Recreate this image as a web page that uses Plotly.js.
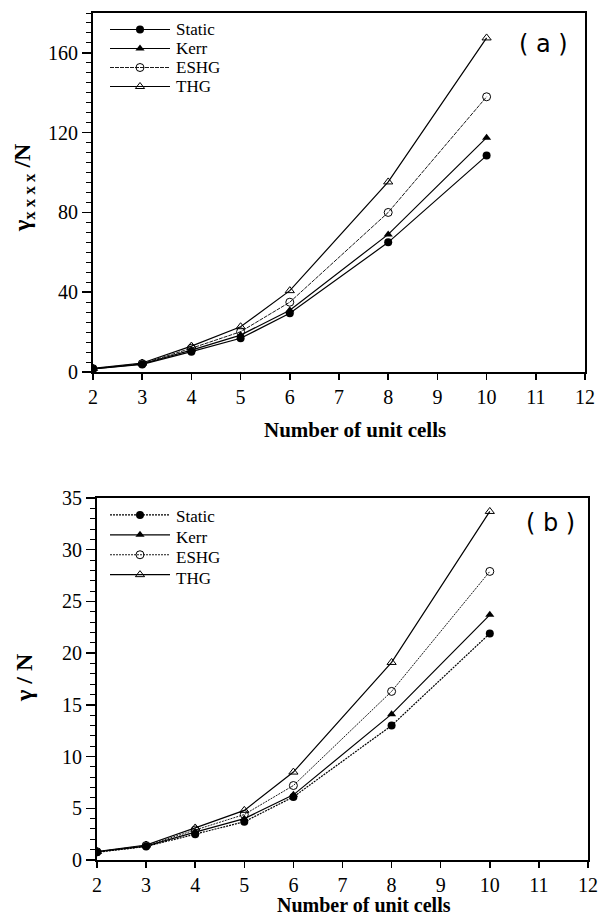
<!DOCTYPE html>
<html>
<head>
<meta charset="utf-8">
<script src="https://cdn.plot.ly/plotly-3.0.1.min.js"></script>
<style>html,body{margin:0;padding:0;background:#fff;}#chart{width:600px;height:915px;}</style>
</head>
<body>
<div id="chart"></div>
<script>
// Shared x values (number of unit cells)
const cells = [2, 3, 4, 5, 6, 8, 10];

// Panel (a): gamma_xxxx / N
const aStatic = [1.5, 3.8, 10.2, 16.9, 29.4, 65, 108.5];
const aKerr   = [1.6, 4.0, 11.0, 18.5, 31.0, 69, 117.5];
const aESHG   = [1.7, 4.2, 11.9, 20.2, 35.0, 80, 138];
const aTHG    = [1.8, 4.5, 13.0, 22.7, 40.8, 95.3, 167.5];

// Panel (b): gamma / N
const bStatic = [0.75, 1.3, 2.5, 3.7, 6.1, 13.0, 21.9];
const bKerr   = [0.78, 1.35, 2.7, 4.0, 6.3, 14.1, 23.7];
const bESHG   = [0.8, 1.4, 2.9, 4.4, 7.2, 16.3, 27.9];
const bTHG    = [0.82, 1.45, 3.1, 4.8, 8.5, 19.1, 33.7];

const seriesNames = ['Static', 'Kerr', 'ESHG', 'THG'];
const xTicks = [2, 3, 4, 5, 6, 7, 8, 9, 10, 11, 12];

const serif = 'Liberation Serif';
const styles = {
  Static: {marker: {symbol: 'circle', size: 8, color: '#000'}, line: {color: '#000', width: 1.2}},
  Kerr:   {marker: {symbol: 'triangle-up', size: 8, color: '#000'}, line: {color: '#000', width: 1.2}},
  ESHG:   {marker: {symbol: 'circle-open', size: 8, color: '#000', line: {width: 1}}, line: {color: '#000', width: 0.9, dash: '4px,1px'}},
  THG:    {marker: {symbol: 'triangle-up-open', size: 8, color: '#000', line: {width: 1}}, line: {color: '#000', width: 1.2}}
};

// Legend symbols come from the traces (legend labels are written as annotations
// so that the compact row spacing of the original can be kept with large text).
function mk(name, y, xa, ya, leg, dashOverride) {
  const s = styles[name];
  const line = Object.assign({}, s.line);
  if (dashOverride) line.dash = dashOverride;
  return {x: cells, y: y, name: '', meta: name, hovertemplate: name + ': %{y}<extra></extra>',
          type: 'scatter', mode: 'lines+markers',
          xaxis: xa, yaxis: ya, legend: leg, marker: s.marker, line: line};
}

const traces = [
  mk(seriesNames[0], aStatic, 'x', 'y', 'legend'),
  mk(seriesNames[1], aKerr, 'x', 'y', 'legend'),
  mk(seriesNames[2], aESHG, 'x', 'y', 'legend'),
  mk(seriesNames[3], aTHG, 'x', 'y', 'legend'),
  mk(seriesNames[0], bStatic, 'x2', 'y2', 'legend2', '2px,1px'),
  mk(seriesNames[1], bKerr, 'x2', 'y2', 'legend2'),
  mk(seriesNames[2], bESHG, 'x2', 'y2', 'legend2', '2px,1px'),
  mk(seriesNames[3], bTHG, 'x2', 'y2', 'legend2')
];

const tickFont = {family: serif, size: 20, color: '#000'};
function xax(domain, anchor) {
  return {domain: domain, anchor: anchor, range: [2, 12], tickvals: xTicks, ticktext: xTicks.map(String),
          ticks: 'outside', ticklen: 6, tickwidth: 1.5, tickcolor: '#000',
          showline: true, linewidth: 2, linecolor: '#000', mirror: true,
          showgrid: false, zeroline: false, tickfont: tickFont, fixedrange: true};
}
function yax(domain, anchor, range, dtick, minor) {
  return {domain: domain, anchor: anchor, range: range, dtick: dtick, tick0: 0,
          ticks: 'outside', ticklen: 9, tickwidth: 1.5, tickcolor: '#000',
          minor: {dtick: minor, ticks: 'outside', ticklen: 5, tickwidth: 1, tickcolor: '#000', showgrid: false},
          showline: true, linewidth: 2, linecolor: '#000', mirror: true,
          showgrid: false, zeroline: false, tickfont: tickFont, fixedrange: true};
}

function legendCfg(top, size) {
  return {x: 105/600, y: 1 - top/915, xanchor: 'left', yanchor: 'top', bgcolor: 'rgba(0,0,0,0)',
          font: {family: serif, size: size, color: '#000'}, itemwidth: 60, tracegroupgap: 0, itemclick: false};
}

// legend label annotations
const legRowsA = [29, 48, 67, 86];
const legRowsB = [516, 537, 557, 578];
const legAnn = [];
seriesNames.forEach(function (n, i) {
  legAnn.push({text: n, xref: 'paper', yref: 'paper', x: 174/600, y: 1 - legRowsA[i]/915, showarrow: false,
               xanchor: 'left', yanchor: 'middle', font: {family: serif, size: 17, color: '#000'}});
  legAnn.push({text: n, xref: 'paper', yref: 'paper', x: 174/600, y: 1 - legRowsB[i]/915, showarrow: false,
               xanchor: 'left', yanchor: 'middle', font: {family: serif, size: 17, color: '#000'}});
});

const layout = {
  width: 600, height: 915,
  margin: {l: 0, r: 0, t: 0, b: 0},
  paper_bgcolor: '#fff', plot_bgcolor: '#fff',
  showlegend: true,
  xaxis: xax([93/600, 585/600], 'y'),
  yaxis: yax([1 - 372/915, 1 - 13/915], 'x', [0, 180], 40, 5),
  xaxis2: xax([97/600, 588/600], 'y2'),
  yaxis2: yax([1 - 860/915, 1 - 498/915], 'x2', [0, 35], 5, 1),
  legend: legendCfg(15, 12),
  legend2: legendCfg(500, 13),
  annotations: [
    {text: '( a )', xref: 'paper', yref: 'paper', x: 543/600, y: 1 - 44/915, showarrow: false,
     font: {family: 'DejaVu Sans', size: 24, color: '#000'}, xanchor: 'center', yanchor: 'middle'},
    {text: '( b )', xref: 'paper', yref: 'paper', x: 550/600, y: 1 - 523/915, showarrow: false,
     font: {family: 'DejaVu Sans', size: 24, color: '#000'}, xanchor: 'center', yanchor: 'middle'},
    {text: '<b>Number of unit cells</b>', xref: 'paper', yref: 'paper', x: 355/600, y: 1 - 430/915, showarrow: false,
     font: {family: serif, size: 21, color: '#000'}, xanchor: 'center', yanchor: 'middle'},
    {text: '<b>Number of unit cells</b>', xref: 'paper', yref: 'paper', x: 364/600, y: 1 - 905/915, showarrow: false,
     font: {family: serif, size: 20, color: '#000'}, xanchor: 'center', yanchor: 'middle'},
    {text: '<b>γ<sub>x x x x</sub> /N</b>', xref: 'paper', yref: 'paper', x: 24/600, y: 1 - 188/915, showarrow: false,
     textangle: -90, font: {family: serif, size: 24, color: '#000'}, xanchor: 'center', yanchor: 'middle'},
    {text: '<b>γ / N</b>', xref: 'paper', yref: 'paper', x: 24/600, y: 1 - 678/915, showarrow: false,
     textangle: -90, font: {family: serif, size: 24, color: '#000'}, xanchor: 'center', yanchor: 'middle'}
  ].concat(legAnn)
};

Plotly.newPlot('chart', traces, layout, {displayModeBar: false, staticPlot: true});
</script>
</body>
</html>
